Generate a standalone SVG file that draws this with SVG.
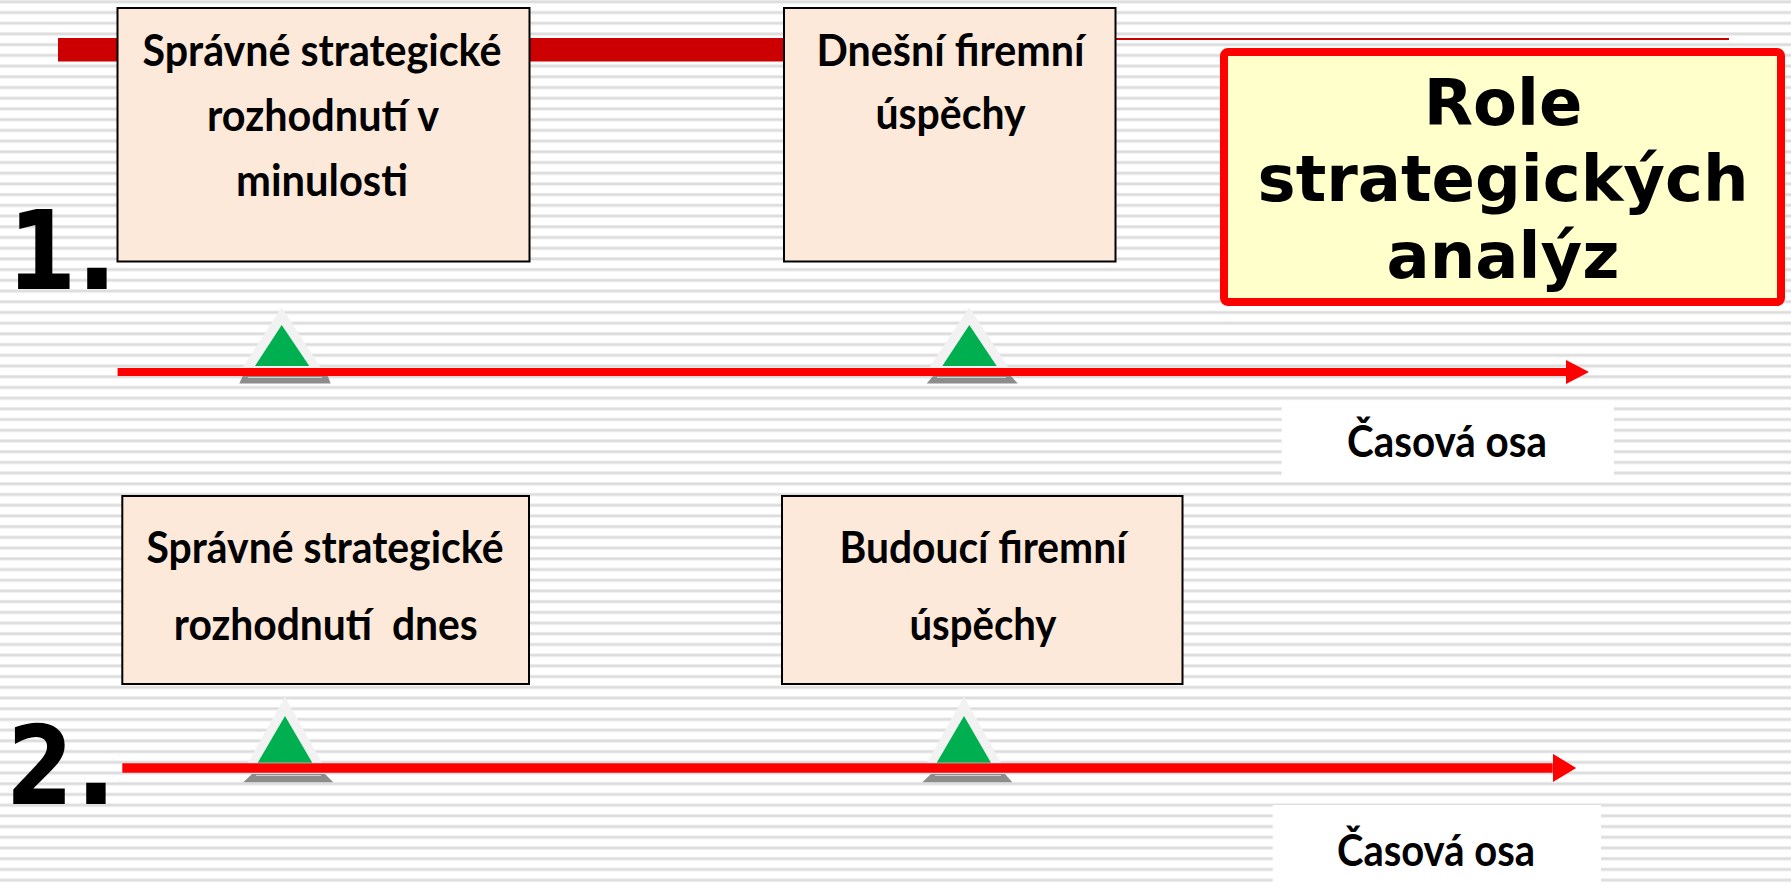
<svg xmlns="http://www.w3.org/2000/svg" width="1791" height="889" viewBox="0 0 1791 889">
<defs>
<pattern id="stripes" patternUnits="userSpaceOnUse" x="0" y="0" width="20" height="10.711">
<rect x="0" y="0" width="20" height="10.711" fill="#ffffff"/>
<rect x="0" y="0" width="20" height="3.6" fill="#ececec"/>
<rect x="0" y="0.8" width="20" height="2" fill="#dcdcdc"/>
</pattern>
<marker id="head1" markerUnits="userSpaceOnUse" markerWidth="24" markerHeight="26" refX="0" refY="12" orient="auto">
<path d="M0,0 L23,12 L0,24 Z" fill="#ff0000"/>
</marker>
<marker id="head2" markerUnits="userSpaceOnUse" markerWidth="24" markerHeight="30" refX="0" refY="14.3" orient="auto">
<path d="M0,0 L23.5,14.3 L0,28.6 Z" fill="#ff0000"/>
</marker>
<style>
.box{fill:#fde9d9;stroke:#000000;stroke-width:2}
.t{font-family:Lato,"Open Sans","Liberation Sans",sans-serif;font-weight:bold;font-size:43px;fill:#000000;text-anchor:middle}
.title{font-family:"DejaVu Sans",Verdana,"Liberation Sans",sans-serif;font-weight:bold;font-size:64px;fill:#000000;text-anchor:middle}
.num{font-family:"DejaVu Sans Mono","Liberation Mono",monospace;font-weight:bold;font-size:107px;fill:#000000;stroke:#000000;stroke-width:2;letter-spacing:-9px}
.halo{fill:#f2f2f2}
.green{fill:#00b050}
.base{fill:#8c8c8c}
.baseline{stroke:#d0d0d0;stroke-width:1}
.axis{stroke:#ff0000;fill:none}
.label{fill:#ffffff}
</style>
</defs>
<rect x="0" y="0" width="1791" height="889" fill="url(#stripes)"/>

<g id="connectors">
<rect x="58" y="38" width="730" height="23.5" fill="#cc0000"/>
<line x1="1114" y1="39" x2="1729" y2="39" stroke="#cc0000" stroke-width="2"/>
</g>

<g id="title">
<rect x="1224" y="52" width="557" height="250" rx="4" fill="#ffffcc" stroke="#ff0000" stroke-width="8"/>
<text class="title" x="1503" y="125">Role</text>
<text class="title" x="1503" y="201">strategických</text>
<text class="title" x="1503" y="278">analýz</text>
</g>

<g id="box1">
<rect class="box" x="117.5" y="8" width="412" height="253.5"/>
<text class="t" x="322" y="66" textLength="359" lengthAdjust="spacingAndGlyphs">Správné strategické</text>
<text class="t" x="323" y="131" textLength="232" lengthAdjust="spacingAndGlyphs">rozhodnutí v</text>
<text class="t" x="322" y="196" textLength="172" lengthAdjust="spacingAndGlyphs">minulosti</text>
</g>

<g id="box2">
<rect class="box" x="784" y="8" width="331.5" height="253.5"/>
<text class="t" x="950.5" y="66" textLength="268" lengthAdjust="spacingAndGlyphs">Dnešní firemní</text>
<text class="t" x="950.5" y="129" textLength="150" lengthAdjust="spacingAndGlyphs">úspěchy</text>
</g>

<g id="num1">
<text class="num" x="9.3" y="288">1.</text>
</g>

<g id="timeline1">
<polygon class="halo" points="281.7,307.3 241.7,369 321.7,369"/>
<polygon class="green" points="281.7,325 255,366 309.3,366"/>
<polygon class="halo" points="969.3,307.3 928.3,369 1009.3,369"/>
<polygon class="green" points="969.3,325 942.3,366 996.7,366"/>
<line class="axis" x1="117.6" y1="372" x2="1566" y2="372" stroke-width="8" marker-end="url(#head1)"/>
<polygon class="base" points="242.7,376 327.7,376 330.7,383.5 239.3,383.5"/>
<line class="baseline" x1="248" y1="377.5" x2="322" y2="377.5"/>
<polygon class="base" points="933,376 1011,376 1017.7,383.5 926.7,383.5"/>
<line class="baseline" x1="937" y1="377.5" x2="1006" y2="377.5"/>
</g>

<g id="label1">
<rect class="label" x="1281.7" y="405" width="332.3" height="71"/>
<text class="t" x="1447" y="456.7" textLength="200" lengthAdjust="spacingAndGlyphs">Časová osa</text>
</g>

<g id="box3">
<rect class="box" x="122.3" y="496" width="406.7" height="188"/>
<text class="t" x="325" y="563" textLength="357" lengthAdjust="spacingAndGlyphs">Správné strategické</text>
<text class="t" x="325.8" y="640" textLength="304" lengthAdjust="spacingAndGlyphs" xml:space="preserve">rozhodnutí  dnes</text>
</g>

<g id="box4">
<rect class="box" x="782" y="496" width="400.5" height="188"/>
<text class="t" x="983" y="563" textLength="287" lengthAdjust="spacingAndGlyphs">Budoucí firemní</text>
<text class="t" x="983" y="640" textLength="147" lengthAdjust="spacingAndGlyphs">úspěchy</text>
</g>

<g id="num2">
<text class="num" x="8.3" y="803">2.</text>
</g>

<g id="timeline2">
<polygon class="halo" points="285,696.7 246.7,765 323.3,765"/>
<polygon class="green" points="285,716 257.7,762.7 312.3,762.7"/>
<polygon class="halo" points="964,696.7 925.7,765 1002.3,765"/>
<polygon class="green" points="964,716 936.7,762.7 991,762.7"/>
<line class="axis" x1="122.3" y1="768" x2="1552.7" y2="768" stroke-width="9.4" marker-end="url(#head2)"/>
<polygon class="base" points="252,774 325,774 333.3,782.3 243.3,782.3"/>
<line class="baseline" x1="256" y1="775.5" x2="321" y2="775.5"/>
<polygon class="base" points="931,774 1005,774 1012.3,782.3 922.3,782.3"/>
<line class="baseline" x1="935" y1="775.5" x2="1001" y2="775.5"/>
</g>

<g id="label2">
<rect class="label" x="1272.7" y="805" width="328.3" height="80"/>
<text class="t" x="1436" y="866" textLength="198" lengthAdjust="spacingAndGlyphs">Časová osa</text>
</g>
</svg>
